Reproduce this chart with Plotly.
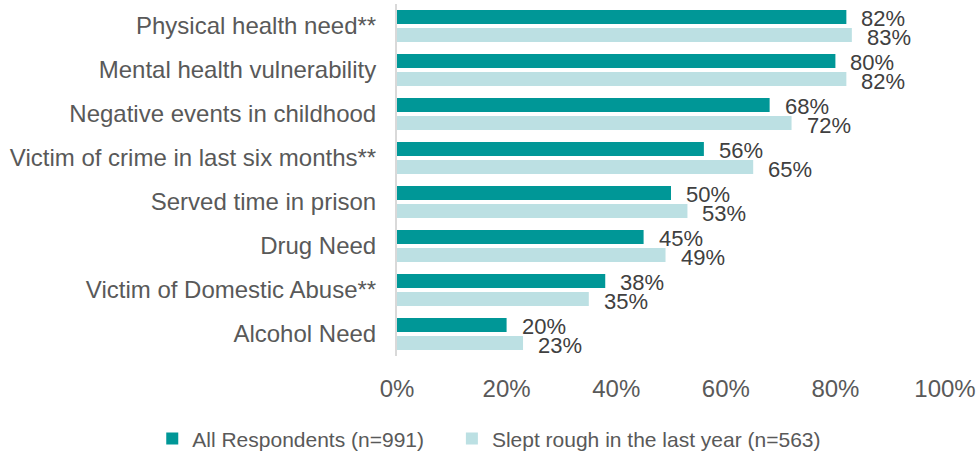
import plotly.graph_objects as go

categories = [
    "Physical health need**",
    "Mental health vulnerability",
    "Negative events in childhood",
    "Victim of crime in last six months**",
    "Served time in prison",
    "Drug Need",
    "Victim of Domestic Abuse**",
    "Alcohol Need",
]
all_respondents = [82, 80, 68, 56, 50, 45, 38, 20]
slept_rough = [83, 82, 72, 65, 53, 49, 35, 23]
series_names = ["All Respondents (n=991)", "Slept rough in the last year (n=563)"]
x_ticks = [0, 20, 40, 60, 80, 100]
x_tick_labels = ["0%", "20%", "40%", "60%", "80%", "100%"]

FONT = "Arial, Liberation Sans, sans-serif"
DARK = "#009797"
LIGHT = "#bce0e3"

fig = go.Figure()
series = [
    (series_names[0], all_respondents, DARK, 8, "legend"),
    (series_names[1], slept_rough, LIGHT, -11, "legend2"),
]
for name, vals, col, _, leg in series:
    fig.add_trace(go.Bar(
        y=categories,
        x=vals,
        name=name,
        orientation="h",
        marker=dict(color=col, line=dict(width=0)),
        legend=leg,
        hoverinfo="skip",
    ))

# value labels just past the end of each bar
for name, vals, col, dy, _ in series:
    for cat, v in zip(categories, vals):
        fig.add_annotation(
            x=v, y=cat, text=f"{v}%",
            xref="x", yref="y",
            xanchor="left", yanchor="middle",
            xshift=13, yshift=dy,
            showarrow=False,
            font=dict(family=FONT, size=22, color="#404040"),
        )

legend_style = dict(
    orientation="h",
    xref="container",
    yref="container",
    xanchor="left",
    y=0.027,
    yanchor="middle",
    bgcolor="rgba(0,0,0,0)",
    font=dict(family=FONT, size=21, color="#595959"),
)

fig.update_layout(
    width=976,
    height=451,
    margin=dict(l=397, r=31, t=4, b=95),
    paper_bgcolor="white",
    plot_bgcolor="white",
    barmode="group",
    bargap=0.182,
    bargroupgap=0.222,
    font=dict(family=FONT, color="#595959"),
    xaxis=dict(
        range=[0, 100],
        tickvals=x_ticks,
        ticktext=x_tick_labels,
        showgrid=False,
        zeroline=False,
        showline=False,
        ticks="",
        ticklabelstandoff=16,
        tickfont=dict(family=FONT, size=24, color="#595959"),
        automargin=False,
        fixedrange=True,
    ),
    yaxis=dict(
        range=[len(categories) - 0.5, -0.5],
        showgrid=False,
        zeroline=False,
        showline=True,
        linecolor="#d9d9d9",
        linewidth=2,
        ticks="",
        ticklabelstandoff=14,
        tickfont=dict(family=FONT, size=24, color="#595959"),
        automargin=False,
        fixedrange=True,
    ),
    legend=dict(legend_style, x=0.156),
    legend2=dict(legend_style, x=0.463),
    showlegend=True,
)

fig.write_html("out.html")
